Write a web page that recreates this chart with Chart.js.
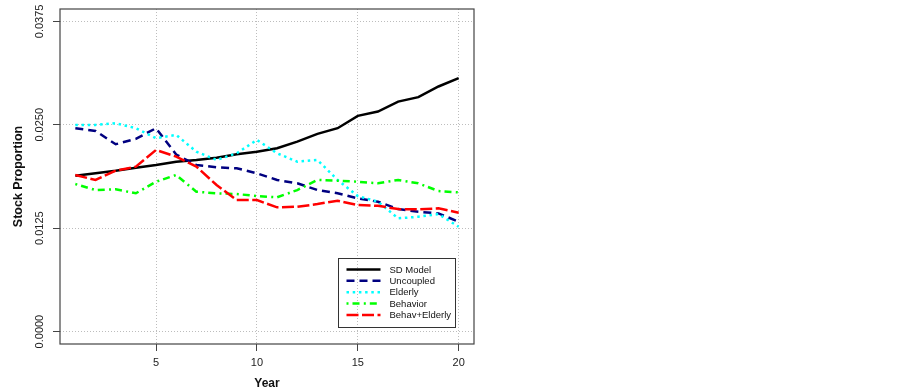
<!DOCTYPE html>
<html>
<head>
<meta charset="utf-8">
<script src="https://cdn.jsdelivr.net/npm/chart.js@4/dist/chart.umd.min.js"></script>
<style>
  body { margin: 0; background: #ffffff; }
  #box { width: 902px; height: 392px; }
</style>
</head>
<body>
<div id="box"><canvas id="stockChart" width="902" height="392"></canvas></div>
<script>
  //data
  let years = [1, 2, 3, 4, 5, 6, 7, 8, 9, 10, 11, 12, 13, 14, 15, 16, 17, 18, 19, 20];
  let sdModel = [0.01885, 0.01914, 0.01945, 0.01982, 0.02014, 0.02054, 0.02075, 0.02103, 0.02144, 0.02175,
                 0.02216, 0.02297, 0.0239, 0.02459, 0.02608, 0.0266, 0.0278, 0.02834, 0.02963, 0.03064];
  let uncoupled = [0.02459, 0.02426, 0.02265, 0.0233, 0.02459, 0.0214, 0.02014, 0.01986, 0.01974, 0.01914,
                   0.01833, 0.01793, 0.01711, 0.01672, 0.01611, 0.0157, 0.01481, 0.01449, 0.01429, 0.01328];
  let elderly = [0.02499, 0.02499, 0.02519, 0.02459, 0.02338, 0.02378, 0.02175, 0.02075, 0.02156, 0.02317,
                 0.02156, 0.02054, 0.02075, 0.01833, 0.01639, 0.0157, 0.01369, 0.01388, 0.01421, 0.01267];
  let behavior = [0.01784, 0.01711, 0.0172, 0.01672, 0.01812, 0.01893, 0.01691, 0.01672, 0.01663, 0.01639,
                  0.01623, 0.01711, 0.01833, 0.01824, 0.01812, 0.01793, 0.01833, 0.01793, 0.01699, 0.01683];
  let behavElderly = [0.01893, 0.01833, 0.01945, 0.01994, 0.02196, 0.02115, 0.01994, 0.01772, 0.0159, 0.0159,
                      0.01502, 0.01509, 0.01542, 0.01582, 0.0153, 0.01521, 0.01481, 0.01478, 0.0149, 0.01437];
  let seriesNames = ["SD Model", "Uncoupled", "Elderly", "Behavior", "Behav+Elderly"];
  let xTicks = [5, 10, 15, 20];
  let yTicks = [0, 0.0125, 0.025, 0.0375];

  let fontName = "'Liberation Sans', Arial, sans-serif";

  function makePoints(values){
    let points = [];
    for (let i = 0; i < years.length; i++){
      points.push({x: years[i], y: values[i]});
    }
    return points;
  }

  function makeDataset(index, values, color, dash, order){
    return {
      label: seriesNames[index],
      data: makePoints(values),
      borderColor: color,
      backgroundColor: color,
      borderWidth: 2.5,
      borderDash: dash,
      pointRadius: 0,
      tension: 0,
      fill: false,
      order: order
    };
  }

  //legend box in the lower right of the plot, like R's legend()
  let legendBox = {
    id: "legendBox",
    afterDraw(chart){
      let ctx = chart.ctx;
      let area = chart.chartArea;
      let w = 117, h = 69;
      let left = Math.round(area.right - 19 - w) + 0.5;
      let top = Math.round(area.bottom - 17 - h) + 0.5;
      ctx.save();
      ctx.strokeStyle = "#333333";
      ctx.lineWidth = 1;
      ctx.setLineDash([]);
      ctx.strokeRect(left, top, w, h);
      ctx.font = "9.5px " + fontName;
      ctx.textBaseline = "middle";
      chart.data.datasets.forEach(function (ds, i){
        let y = top + 11 + i * 11.35;
        ctx.beginPath();
        ctx.strokeStyle = ds.borderColor;
        ctx.lineWidth = ds.borderWidth;
        ctx.setLineDash(ds.borderDash);
        ctx.moveTo(left + 8, y);
        ctx.lineTo(left + 42, y);
        ctx.stroke();
        ctx.setLineDash([]);
        ctx.fillStyle = "#111111";
        ctx.fillText(ds.label, left + 51, y + 0.5);
      });
      ctx.restore();
    }
  };

  //box around the plot region
  let plotFrame = {
    id: "plotFrame",
    afterDatasetsDraw(chart){
      let ctx = chart.ctx;
      let area = chart.chartArea;
      ctx.save();
      ctx.strokeStyle = "#444444";
      ctx.lineWidth = 1.2;
      ctx.setLineDash([]);
      ctx.strokeRect(area.left, area.top, area.right - area.left, area.bottom - area.top);
      ctx.restore();
    }
  };

  let stockChart = new Chart("stockChart", {
    type: "line",
    data: {
      datasets: [
        makeDataset(0, sdModel, "#000000", [], 5),
        makeDataset(1, uncoupled, "#000080", [8, 5], 4),
        makeDataset(2, elderly, "#00ffff", [2.5, 3.7], 3),
        makeDataset(3, behavior, "#00ff00", [2, 4, 7, 4.3], 2),
        makeDataset(4, behavElderly, "#ff0000", [12, 3.5], 1)
      ]
    },
    plugins: [plotFrame, legendBox],
    options: {
      responsive: false,
      animation: false,
      layout: {
        padding: {left: 0, top: 9, right: 428, bottom: 0}
      },
      plugins: {
        legend: { display: false },
        tooltip: { enabled: false }
      },
      scales: {
        x: {
          type: "linear",
          min: 0.24,
          max: 20.76,
          afterBuildTicks: function (scale){
            scale.ticks = xTicks.map(v => ({value: v}));
          },
          afterFit: function (scale){
            scale.height = 48;
          },
          ticks: {
            color: "#222222",
            font: { family: fontName, size: 11 },
            padding: 5,
            maxRotation: 0,
            autoSkip: false,
            callback: v => String(v)
          },
          grid: {
            color: "#bdbdbd",
            lineWidth: 1,
            drawTicks: true,
            tickLength: 7,
            tickColor: "#444444",
            tickWidth: 1,
            tickBorderDash: []
          },
          border: { display: false, dash: [1, 2] },
          title: {
            display: true,
            text: "Year",
            color: "#111111",
            font: { family: fontName, size: 12, weight: "bold" },
            padding: {top: 0, bottom: 1}
          }
        },
        y: {
          type: "linear",
          min: -0.0015,
          max: 0.039,
          afterBuildTicks: function (scale){
            scale.ticks = yTicks.map(v => ({value: v}));
          },
          afterFit: function (scale){
            scale.width = 60;
          },
          ticks: {
            color: "#222222",
            font: { family: fontName, size: 11 },
            minRotation: 90,
            maxRotation: 90,
            crossAlign: "center",
            padding: -4,
            autoSkip: false,
            callback: v => v.toFixed(4)
          },
          grid: {
            color: "#bdbdbd",
            lineWidth: 1,
            drawTicks: true,
            tickLength: 7,
            tickColor: "#444444",
            tickWidth: 1,
            tickBorderDash: []
          },
          border: { display: false, dash: [1, 2] },
          title: {
            display: true,
            text: "Stock Proportion",
            color: "#111111",
            font: { family: fontName, size: 12.5, weight: "bold" },
            padding: {top: 11, bottom: 0}
          }
        }
      }
    }
  });
</script>
</body>
</html>
